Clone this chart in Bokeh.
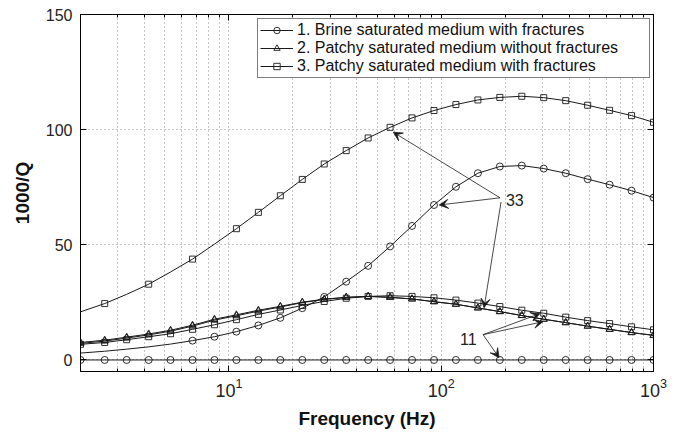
from bokeh.plotting import figure
from bokeh.models import (FixedTicker, LogAxis, LinearAxis, Range1d, Legend, LegendItem,
                          Arrow, VeeHead, Label, ColumnDataSource)
from bokeh.embed import file_html
from bokeh.resources import INLINE

# ---------------- data ----------------
freq = [2.0, 2.60, 3.30, 4.19, 5.31, 6.74, 8.55, 10.85, 13.77, 17.47, 22.17, 28.12, 35.69,
        45.28, 57.45, 72.89, 92.49, 117.3, 148.9, 188.9, 239.7, 304.1, 385.9, 489.6,
        621.2, 788.2, 1000.0]

# 1. Brine saturated medium with fractures
brine_11 = [0.0] * 27
brine_33 = [3.0, 3.8, 4.7, 5.7, 6.9, 8.4, 10.1, 12.3, 15.0, 18.3, 22.5, 27.4, 34.0, 40.9,
            49.3, 58.2, 67.3, 75.2, 81.1, 84.0, 84.4, 83.1, 81.1, 78.5, 76.1, 73.5, 70.5]
brine_33_marks = list(range(5, 27))

# 2. Patchy saturated medium without fractures
patchy_nf_11 = [7.2, 8.2, 9.5, 10.9, 12.5, 14.7, 17.3, 19.2, 21.2, 23.0, 24.9, 26.3, 27.2,
                27.6, 27.2, 26.5, 25.3, 24.2, 22.6, 21.0, 19.3, 17.7, 16.2, 14.7, 13.3, 11.9, 10.7]
patchy_nf_33 = [7.6, 8.6, 9.9, 11.3, 12.9, 15.1, 17.7, 19.6, 21.6, 23.3, 25.1, 26.4, 27.2,
                27.6, 27.2, 26.5, 25.3, 24.2, 22.6, 21.0, 19.3, 17.7, 16.2, 14.7, 13.3, 11.9, 10.7]

# 3. Patchy saturated medium with fractures
patchy_f_11 = [6.8, 7.6, 8.8, 10.1, 11.4, 13.3, 15.3, 17.5, 19.8, 21.7, 23.7, 25.4, 26.8,
               27.6, 27.9, 27.6, 27.0, 26.0, 24.7, 23.2, 21.6, 20.3, 18.6, 17.1, 15.8, 14.4, 13.1]
patchy_f_33 = [20.9, 24.5, 28.5, 32.9, 38.2, 43.8, 50.3, 57.0, 64.1, 71.3, 78.4, 85.1, 90.9,
               96.4, 101.0, 105.1, 108.3, 110.9, 112.9, 114.0, 114.5, 113.9, 112.6, 110.6,
               108.4, 106.1, 103.2]
patchy_f_33_marks = [1, 3, 5] + list(range(7, 27))

legend_labels = ["1. Brine saturated medium with fractures",
                 "2. Patchy saturated medium without fractures",
                 "3. Patchy saturated medium with fractures"]

x_major = [10, 100, 1000]
x_minor = [2, 3, 4, 5, 6, 7, 8, 9, 20, 30, 40, 50, 60, 70, 80, 90,
           200, 300, 400, 500, 600, 700, 800, 900]
y_major = [0, 50, 100, 150]

# annotation arrows: (x_start, y_start, x_end, y_end)
arrows_33 = [(189.3, 70.4, 59.5, 98.9), (189.3, 70.4, 97.9, 67.3), (191.4, 68.6, 159.2, 22.7)]
arrows_11 = [(157.5, 11.0, 291.5, 20.1), (157.5, 11.0, 301.2, 16.6), (157.5, 11.0, 187.3, 1.0)]
label_33 = (201.8, 69.5, "33")
label_11 = (122.7, 9.2, "11")

# ---------------- figure ----------------
FONT = "Liberation Sans"
p = figure(width=682, height=433, x_axis_type="log",
           x_range=Range1d(2, 1000), y_range=Range1d(-5, 150),
           output_backend="svg", toolbar_location=None,
           min_border_left=80, min_border_right=29, min_border_top=14, min_border_bottom=62)
p.background_fill_color = "white"
p.border_fill_color = "white"
p.outline_line_color = "black"
p.outline_line_width = 1

xt = FixedTicker(ticks=x_major, minor_ticks=x_minor)
yt = FixedTicker(ticks=y_major)

for ax in p.xaxis:
    ax.ticker = xt
for ax in p.yaxis:
    ax.ticker = yt

for ax in list(p.xaxis) + list(p.yaxis):
    ax.major_tick_in = 6
    ax.major_tick_out = 0
    ax.minor_tick_in = 3
    ax.minor_tick_out = 0
    ax.axis_line_color = "black"
    ax.major_tick_line_color = "black"
    ax.minor_tick_line_color = "black"
    ax.major_label_text_font = FONT
    ax.major_label_text_color = "#222222"
    ax.axis_label_text_font = FONT
    ax.axis_label_text_font_size = "19px"
    ax.axis_label_text_font_style = "bold"
    ax.axis_label_text_color = "#111111"

p.xaxis.major_label_text_font_size = "18px"
p.yaxis.major_label_text_font_size = "16px"
p.xaxis.axis_label = "Frequency (Hz)"
p.yaxis.axis_label = "1000/Q"
p.xaxis.major_label_standoff = 6
p.xaxis.axis_label_standoff = 8
p.yaxis.major_label_standoff = 8
p.yaxis.axis_label_standoff = 10

# mirrored tick axes on top and right (labels invisible)
top_ax = LogAxis(ticker=xt, major_label_text_font_size="1px", major_label_text_alpha=0,
                 major_tick_in=6, major_tick_out=0, minor_tick_in=3, minor_tick_out=0,
                 major_label_standoff=0, axis_line_color="black")
right_ax = LinearAxis(ticker=yt, major_label_text_font_size="1px", major_label_text_alpha=0,
                      major_tick_in=6, major_tick_out=0, minor_tick_in=0, minor_tick_out=0,
                      major_label_standoff=0, axis_line_color="black")
p.add_layout(top_ax, "above")
p.add_layout(right_ax, "right")

# grid
p.xgrid.ticker = xt
p.ygrid.ticker = yt
for g in (p.xgrid, p.ygrid):
    g.grid_line_color = "#8c8c8c"
    g.grid_line_dash = "1 3"
    g.grid_line_width = 1
p.xgrid.minor_grid_line_color = "#8c8c8c"
p.xgrid.minor_grid_line_dash = "1 3"
p.xgrid.minor_grid_line_width = 1

LW = 1.0
LC = "#1a1a1a"


def series(y, marker, marks=None, size=7):
    src = ColumnDataSource(dict(x=freq, y=y))
    ln = p.line("x", "y", source=src, line_color=LC, line_width=LW)
    idx = marks if marks is not None else list(range(len(freq)))
    msrc = ColumnDataSource(dict(x=[freq[i] for i in idx], y=[y[i] for i in idx]))
    sc = p.scatter("x", "y", source=msrc, marker=marker, size=size,
                   line_color=LC, line_width=0.9, fill_alpha=0)
    return ln, sc


r1a = series(brine_11, "circle", size=7)
r1b = series(brine_33, "circle", brine_33_marks, size=7)
r2a = series(patchy_nf_11, "triangle", size=7)
r2b = series(patchy_nf_33, "triangle", size=7)
r3a = series(patchy_f_11, "square", size=6)
r3b = series(patchy_f_33, "square", patchy_f_33_marks, size=6)

# annotations
for (xs, ys, xe, ye) in arrows_33 + arrows_11:
    p.add_layout(Arrow(x_start=xs, y_start=ys, x_end=xe, y_end=ye,
                       line_color=LC, line_width=0.8,
                       end=VeeHead(size=9, fill_color=LC, line_color=LC, line_width=0.8)))
for (lx, ly, txt) in (label_33, label_11):
    p.add_layout(Label(x=lx, y=ly, text=txt, text_font=FONT, text_font_size="16px",
                       text_baseline="middle", text_align="left", text_color="#222222"))

legend = Legend(items=[LegendItem(label=legend_labels[0], renderers=list(r1a)),
                       LegendItem(label=legend_labels[1], renderers=list(r2a)),
                       LegendItem(label=legend_labels[2], renderers=list(r3a))],
                location=(177, 293), orientation="vertical")
legend.label_text_font = FONT
legend.label_text_font_size = "16px"
legend.label_text_color = "#111111"
legend.glyph_width = 33
legend.glyph_height = 16
legend.label_height = 16
legend.label_standoff = 4
legend.label_width = 350
legend.spacing = 0
legend.padding = 2
legend.margin = 0
legend.border_line_color = "black"
legend.border_line_width = 1
legend.background_fill_color = "white"
legend.background_fill_alpha = 1
p.add_layout(legend, "center")

open("out.html", "w").write(file_html(p, INLINE))
